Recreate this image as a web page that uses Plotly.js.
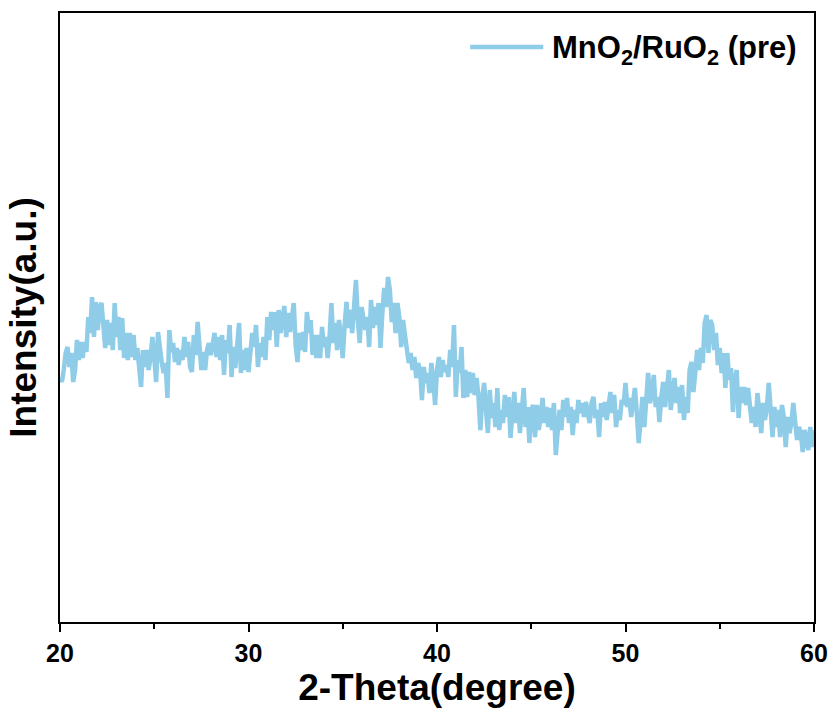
<!DOCTYPE html>
<html>
<head>
<meta charset="utf-8">
<script src="https://cdn.plot.ly/plotly-3.0.1.min.js"></script>
<style>html,body{margin:0;padding:0;background:#fff;}#chart{width:835px;height:709px;}</style>
</head>
<body>
<div id="chart"></div>
<script>
// 2-Theta grid: start and step (degrees)
const thetaStart = 20;
const thetaStep = 0.1;

// Intensity (a.u.), one value per 0.1 degree from 20.0 to 60.0
const intensity = [
  245,240,252,269,275,255,269,240,252,282,
  262,280,264,280,270,305,289,325,285,320,
  292,315,319,294,274,302,277,299,272,319,
  285,305,272,304,264,289,262,289,265,287,
  262,274,252,235,272,255,272,252,264,285,
  265,240,290,269,259,249,259,224,292,270,
  279,260,274,257,272,262,285,265,280,255,
  250,287,267,300,275,252,270,252,272,279,
  267,280,289,265,285,262,287,247,282,269,
  297,245,275,254,272,299,249,272,252,274,
  250,277,289,275,297,255,279,265,285,262,
  305,282,310,292,310,275,312,289,307,316,
  285,309,290,305,319,277,260,289,272,290,
  270,310,289,302,267,287,264,287,264,295,
  275,285,264,285,319,279,299,272,302,287,
  264,297,320,294,312,289,320,342,302,279,
  315,302,292,305,275,322,294,315,297,319,
  274,309,334,315,345,332,300,319,289,319,
  305,275,302,287,270,259,269,252,265,244,
  259,252,222,255,239,249,229,259,242,217,
  252,265,245,262,250,257,245,272,255,297,
  225,262,249,275,224,252,225,250,229,249,
  227,244,225,192,225,239,212,189,232,204,
  219,195,234,192,212,199,227,205,225,184,
  209,230,199,219,189,219,234,195,215,179,
  212,217,185,217,192,205,224,199,215,195,
  214,192,219,167,199,212,192,222,205,224,
  199,215,187,212,199,222,209,219,205,220,
  209,199,219,225,204,212,185,219,205,220,
  202,222,230,209,227,195,212,202,222,217,
  239,215,224,205,219,234,209,179,202,225,
  195,222,249,219,229,247,215,225,200,225,
  240,215,232,252,212,229,244,219,235,209,
  237,202,225,209,252,260,230,249,272,252,
  274,259,299,307,269,302,297,272,289,257,
  274,249,269,234,269,242,254,210,242,252,
  204,235,219,235,217,234,219,199,215,195,
  229,212,189,219,202,215,239,212,185,215,
  195,212,185,217,205,175,205,189,199,219,
  195,182,195,189,170,192,182,172,195,175,
  192
];

const seriesName = 'MnO<sub>2</sub>/RuO<sub>2</sub> (pre)';
const xTickVals = [20, 30, 40, 50, 60];
const xTickText = ['20', '30', '40', '50', '60'];

const FONT = 'Liberation Sans, Arial, sans-serif';
const LINE_COLOR = '#8ecce8';

const trace = {
  type: 'scatter',
  mode: 'lines',
  x0: thetaStart,
  dx: thetaStep,
  y: intensity,
  name: seriesName,
  line: {color: LINE_COLOR, width: 4.5},
  showlegend: false
};

const layout = {
  width: 835,
  height: 709,
  margin: {l: 60, r: 21, t: 13, b: 87},
  paper_bgcolor: '#ffffff',
  plot_bgcolor: '#ffffff',
  font: {family: FONT, color: '#000'},
  showlegend: false,
  xaxis: {
    range: [20, 60],
    tickmode: 'array', tickvals: xTickVals, ticktext: xTickText,
    ticks: 'outside', ticklen: 8, tickwidth: 2, tickcolor: '#000',
    minor: {dtick: 5, tick0: 20, ticks: 'outside', ticklen: 5, tickwidth: 2, tickcolor: '#000', showgrid: false},
    showline: true, linewidth: 2, linecolor: '#000', mirror: true,
    showgrid: false, zeroline: false,
    tickfont: {family: FONT, size: 25, weight: 'bold', color: '#000'},
    title: {text: '2-Theta(degree)', font: {family: FONT, size: 37, weight: 'bold', color: '#000'}, standoff: 4}
  },
  yaxis: {
    range: [0, 609],
    showticklabels: false, ticks: '',
    showline: true, linewidth: 2, linecolor: '#000', mirror: true,
    showgrid: false, zeroline: false,
    title: {text: 'Intensity(a.u.)', font: {family: FONT, size: 37, weight: 'bold', color: '#000'}, standoff: 10}
  },
  // legend entry drawn as a line sample + label
  shapes: [{
    type: 'line', xref: 'paper', yref: 'paper',
    x0: 0.544, x1: 0.641, y0: 0.944, y1: 0.944,
    line: {color: LINE_COLOR, width: 4.5}
  }],
  annotations: [{
    xref: 'paper', yref: 'paper', x: 0.650, y: 0.940,
    xanchor: 'left', yanchor: 'middle', showarrow: false,
    text: seriesName,
    font: {family: FONT, size: 31, weight: 'bold', color: '#000'}
  }]
};

Plotly.newPlot('chart', [trace], layout, {displayModeBar: false, staticPlot: true});
</script>
</body>
</html>
